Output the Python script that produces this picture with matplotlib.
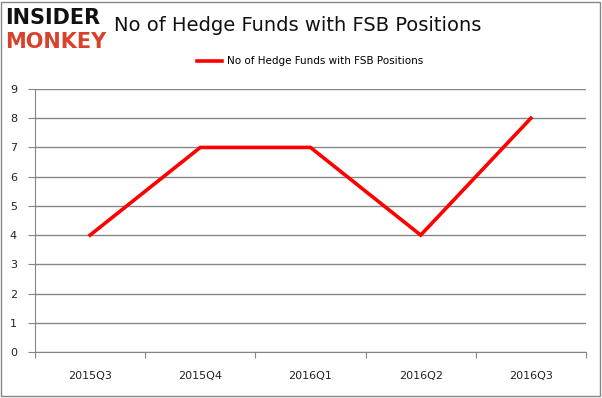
import matplotlib.pyplot as plt
from matplotlib.patches import Rectangle

quarters = ['2015Q3', '2015Q4', '2016Q1', '2016Q2', '2016Q3']
fund_counts = [4, 7, 7, 4, 8]
series_name = 'No of Hedge Funds with FSB Positions'

grey = '#868686'

fig = plt.figure(figsize=(6.02, 3.98), dpi=100)
ax = fig.add_axes([0.0581, 0.1156, 0.9153, 0.6608])

x = list(range(len(quarters)))
ax.plot(x, fund_counts, color='#ff0000', linewidth=2.6, solid_joinstyle='miter')

ax.set_xlim(-0.5, len(quarters) - 0.5)
ax.set_ylim(0, 9)
ax.set_yticks(range(0, 10))
ax.set_xticks([i - 0.5 for i in range(len(quarters) + 1)], minor=False)
ax.set_xticklabels([])
ax.set_xticks(x, minor=True)
ax.set_xticklabels(quarters, minor=True)
ax.tick_params(axis='x', which='minor', length=0, pad=14, labelsize=8, labelcolor='#222222')
ax.tick_params(axis='x', which='major', length=4, color=grey, direction='out')
ax.tick_params(axis='y', length=5, color=grey, direction='out', labelsize=8,
               labelcolor='#222222', pad=8)

ax.grid(axis='y', color=grey, linewidth=1)
ax.set_axisbelow(True)
for side in ['top', 'right']:
    ax.spines[side].set_visible(False)
for side in ['left', 'bottom']:
    ax.spines[side].set_color(grey)

# legend
ax.legend([series_name], loc='lower center', bbox_to_anchor=(0.5, 1.05),
          frameon=False, fontsize=7.5, handlelength=2.4, handletextpad=0.5)

# title and logo
fig.text(0.19, 0.935, series_name, fontsize=14, color='#111111', va='center')
fig.text(0.008, 0.955, 'INSIDER', fontsize=15, fontweight='heavy', color='#111111',
         va='center', family='DejaVu Sans')
fig.text(0.008, 0.895, 'MONKEY', fontsize=15, fontweight='heavy', color='#d9412b',
         va='center', family='DejaVu Sans')

fig.patches.append(Rectangle((0.002, 0.004), 0.994, 0.992, transform=fig.transFigure,
                             fill=False, edgecolor=grey, linewidth=1))

fig.savefig('out.png', dpi=100)
